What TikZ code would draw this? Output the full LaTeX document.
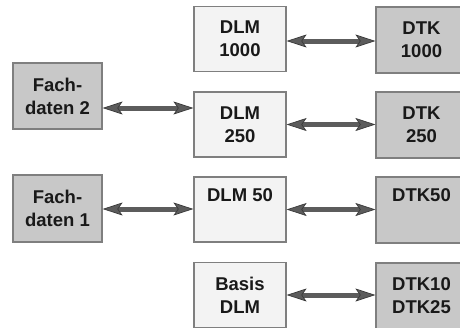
\documentclass[tikz,border=0pt]{standalone}
\usepackage{fontspec}
\setmainfont{Liberation Sans}
\usetikzlibrary{arrows.meta}
\definecolor{boxline}{HTML}{7F7F7F}
\definecolor{lightfill}{HTML}{F3F3F3}
\definecolor{darkfill}{HTML}{C8C8C8}
\definecolor{arrowfill}{HTML}{5C5C5C}
\definecolor{arrowline}{HTML}{3A3A3A}
\tikzset{
  blocktip/.tip={Stealth[length=20pt,width=13pt,inset=4.5pt,fill=arrowfill,color=arrowline,line width=0.7pt]}
}
\begin{document}
\begin{tikzpicture}[x=1pt,y=-1pt,
  box/.style={draw=boxline,line width=1.2pt,align=center,inner sep=0pt,
    font=\fontsize{18.5}{23}\selectfont\bfseries,text=black!90},
  lightbox/.style={box,fill=lightfill,minimum width=92pt,minimum height=65pt},
  darkbox/.style={box,fill=darkfill,minimum width=91pt,minimum height=66pt},
  databox/.style={box,fill=darkfill,minimum width=89pt,minimum height=66pt},
  link/.style={line width=5pt,draw=arrowfill,blocktip-blocktip}]
\fill[white] (0,0) rectangle (460,327);
\useasboundingbox (0,0) rectangle (460,327);

% middle column: DLM products
\node[lightbox] (dlm1000) at (240,39)    {DLM\\1000};
\node[lightbox] (dlm250)  at (240,124.5) {DLM\\250};
\node[lightbox] (dlm50)   at (240,209.5) {DLM 50\\\strut};
\node[lightbox] (basis)   at (240,295)   {Basis\\DLM};

% right column: DTK products
\node[darkbox] (dtk1000) at (421.5,40)  {DTK\\1000};
\node[darkbox] (dtk250)  at (421.5,125) {DTK\\250};
\node[darkbox] (dtk50)   at (421.5,210) {DTK50\\\strut};
\node[darkbox] (dtk10)   at (421.5,296) {DTK10\\DTK25};

% left column: thematic data
\node[databox] (fd2) at (57.5,96)    {Fach-\\daten 2};
\node[databox,minimum height=67pt] (fd1) at (57.5,208.5) {Fach-\\daten 1};

% connections
\draw[link] ([yshift=-2pt]dlm1000.east) -- ([yshift=-2pt]dlm1000.east -| dtk1000.west);
\draw[link] ([yshift=-12pt]fd2.east) -- ([yshift=-12pt]fd2.east -| dlm250.west);
\draw[link] (dlm250.east) -- (dlm250.east -| dtk250.west);
\draw[link] ([yshift=-0.5pt]fd1.east) -- ([yshift=-0.5pt]fd1.east -| dlm50.west);
\draw[link] (dlm50.east) -- (dlm50.east -| dtk50.west);
\draw[link] (basis.east) -- (basis.east -| dtk10.west);
\end{tikzpicture}
\end{document}
